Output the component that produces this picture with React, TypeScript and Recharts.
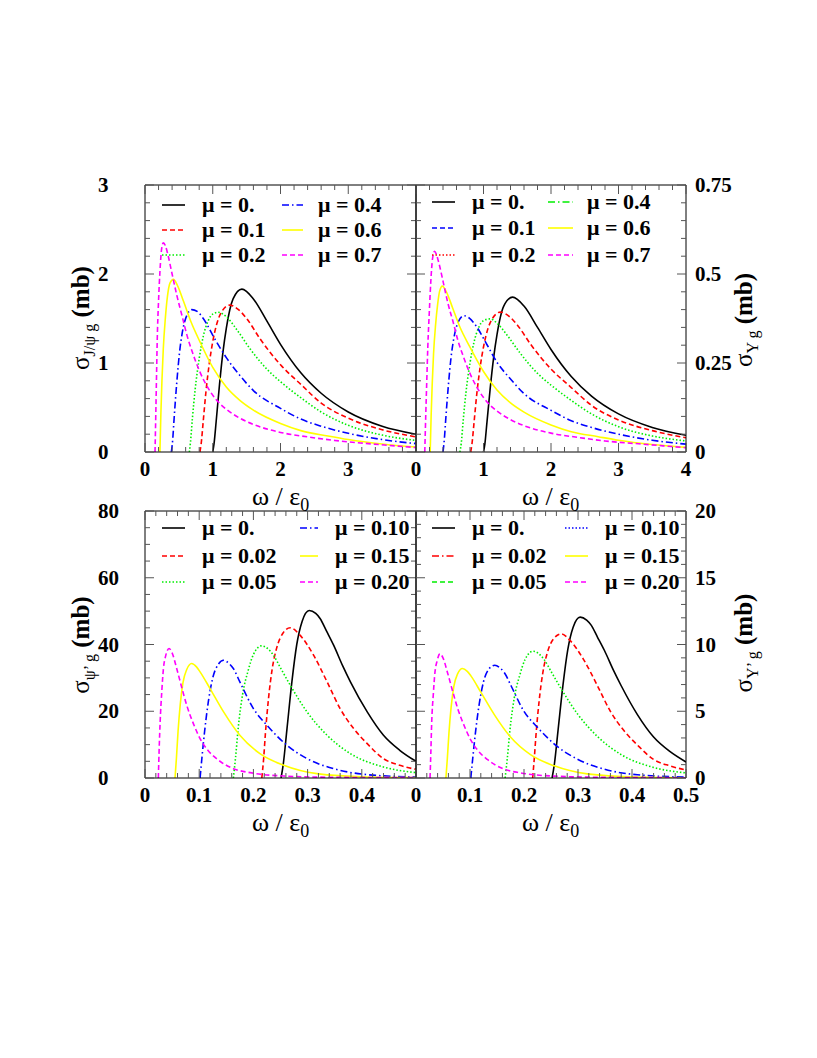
import { LineChart, Line, XAxis, YAxis, Legend } from "recharts"

type Pt = [number, number]

// sigma(J/psi g) in mb vs omega/eps0, top left panel
const jpsiMu00: Pt[] = [[1.0, 0], [1.02, 0.1], [1.05, 0.34], [1.1, 0.76], [1.15, 1.12], [1.2, 1.39], [1.3, 1.72], [1.43, 1.83], [1.6, 1.72], [1.8, 1.47], [2.0, 1.21], [2.3, 0.89], [2.6, 0.66], [3.0, 0.45], [3.5, 0.29], [4.0, 0.2]]
const jpsiMu01: Pt[] = [[0.81, 0], [0.83, 0.1], [0.86, 0.35], [0.9, 0.68], [0.95, 1.0], [1.0, 1.24], [1.06, 1.44], [1.12, 1.56], [1.25, 1.65], [1.38, 1.6], [1.5, 1.5], [1.7, 1.27], [2.0, 0.98], [2.3, 0.76], [2.6, 0.55], [3.0, 0.38], [3.5, 0.25], [4.0, 0.17]]
const jpsiMu02: Pt[] = [[0.655, 0], [0.67, 0.1], [0.7, 0.38], [0.74, 0.7], [0.8, 1.05], [0.86, 1.3], [0.93, 1.47], [1.0, 1.55], [1.08, 1.57], [1.2, 1.52], [1.35, 1.38], [1.55, 1.16], [1.8, 0.93], [2.0, 0.79], [2.3, 0.61], [2.6, 0.45], [3.0, 0.3], [3.5, 0.19], [4.0, 0.13]]
const jpsiMu04: Pt[] = [[0.39, 0], [0.41, 0.15], [0.43, 0.38], [0.47, 0.79], [0.51, 1.12], [0.55, 1.34], [0.62, 1.54], [0.69, 1.6], [0.77, 1.58], [0.86, 1.5], [1.03, 1.27], [1.2, 1.06], [1.4, 0.86], [1.6, 0.69], [2.0, 0.49], [2.3, 0.37], [2.6, 0.29], [3.0, 0.21], [3.5, 0.14], [4.0, 0.094]]
const jpsiMu06: Pt[] = [[0.22, 0], [0.235, 0.45], [0.25, 0.8], [0.27, 1.16], [0.3, 1.5], [0.33, 1.74], [0.37, 1.9], [0.42, 1.94], [0.48, 1.87], [0.57, 1.69], [0.68, 1.46], [0.81, 1.24], [1.0, 0.95], [1.2, 0.73], [1.4, 0.58], [1.6, 0.47], [2.0, 0.32], [2.3, 0.24], [2.7, 0.18], [3.0, 0.14], [3.5, 0.09], [4.0, 0.056]]
const jpsiMu07: Pt[] = [[0.148, 0], [0.16, 0.45], [0.17, 0.85], [0.18, 1.24], [0.2, 1.7], [0.22, 2.02], [0.245, 2.28], [0.27, 2.35], [0.3, 2.32], [0.34, 2.21], [0.4, 2.0], [0.47, 1.76], [0.55, 1.52], [0.62, 1.31], [0.7, 1.12], [0.81, 0.9], [0.93, 0.72], [1.06, 0.58], [1.2, 0.48], [1.4, 0.38], [1.6, 0.31], [2.0, 0.22], [2.4, 0.17], [2.8, 0.13], [3.3, 0.094], [4.0, 0.05]]

// sigma(Upsilon g), top right panel
const upsMu00: Pt[] = [[1.0, 0], [1.02, 0.022], [1.05, 0.081], [1.1, 0.18], [1.15, 0.265], [1.2, 0.33], [1.3, 0.41], [1.43, 0.435], [1.6, 0.41], [1.8, 0.35], [2.0, 0.288], [2.3, 0.212], [2.6, 0.157], [3.0, 0.107], [3.5, 0.069], [4.0, 0.047]]
const upsMu01: Pt[] = [[0.81, 0], [0.83, 0.024], [0.86, 0.083], [0.9, 0.162], [0.95, 0.238], [1.0, 0.295], [1.06, 0.343], [1.12, 0.371], [1.25, 0.393], [1.38, 0.381], [1.5, 0.357], [1.7, 0.302], [2.0, 0.233], [2.3, 0.181], [2.6, 0.131], [3.0, 0.09], [3.5, 0.06], [4.0, 0.04]]
const upsMu02: Pt[] = [[0.65, 0], [0.67, 0.024], [0.7, 0.09], [0.74, 0.167], [0.8, 0.25], [0.86, 0.309], [0.93, 0.35], [1.0, 0.369], [1.1, 0.374], [1.2, 0.362], [1.35, 0.328], [1.55, 0.276], [1.8, 0.221], [2.0, 0.188], [2.3, 0.145], [2.6, 0.107], [3.0, 0.071], [3.5, 0.045], [4.0, 0.031]]
const upsMu04: Pt[] = [[0.4, 0], [0.42, 0.036], [0.44, 0.09], [0.48, 0.188], [0.52, 0.267], [0.56, 0.319], [0.63, 0.367], [0.71, 0.383], [0.79, 0.376], [0.88, 0.357], [1.05, 0.302], [1.2, 0.252], [1.4, 0.205], [1.6, 0.164], [2.0, 0.117], [2.3, 0.088], [2.6, 0.069], [3.0, 0.05], [3.5, 0.033], [4.0, 0.022]]
const upsMu06: Pt[] = [[0.21, 0], [0.225, 0.107], [0.24, 0.19], [0.26, 0.276], [0.29, 0.357], [0.32, 0.414], [0.35, 0.452], [0.39, 0.466], [0.45, 0.45], [0.54, 0.406], [0.65, 0.351], [0.79, 0.298], [1.0, 0.226], [1.2, 0.174], [1.4, 0.138], [1.6, 0.112], [2.0, 0.076], [2.3, 0.057], [2.7, 0.043], [3.0, 0.033], [3.5, 0.021], [4.0, 0.013]]
const upsMu07: Pt[] = [[0.13, 0], [0.145, 0.107], [0.16, 0.202], [0.175, 0.295], [0.2, 0.405], [0.22, 0.481], [0.245, 0.543], [0.275, 0.564], [0.3, 0.556], [0.34, 0.53], [0.4, 0.48], [0.47, 0.42], [0.55, 0.365], [0.62, 0.314], [0.7, 0.269], [0.81, 0.216], [0.93, 0.173], [1.06, 0.139], [1.2, 0.115], [1.4, 0.091], [1.6, 0.074], [2.0, 0.053], [2.4, 0.041], [2.8, 0.031], [3.3, 0.023], [4.0, 0.012]]

// sigma(psi' g), bottom left panel
const psi2Mu000: Pt[] = [[0.251, 0], [0.255, 4], [0.262, 14.8], [0.271, 28.8], [0.28, 40], [0.29, 47], [0.303, 50.2], [0.315, 49.3], [0.323, 47.8], [0.335, 44], [0.348, 39.8], [0.365, 33.5], [0.379, 28.8], [0.41, 19.8], [0.44, 12.8], [0.47, 8.3], [0.5, 5.0]]
const psi2Mu002: Pt[] = [[0.2155, 0], [0.219, 6], [0.222, 13], [0.228, 24], [0.235, 33], [0.243, 39], [0.255, 43.5], [0.268, 45], [0.286, 42.8], [0.311, 36.8], [0.336, 28.8], [0.36, 20.8], [0.385, 14.8], [0.41, 10.3], [0.44, 5.8], [0.47, 3.8], [0.5, 2.6]]
const psi2Mu005: Pt[] = [[0.163, 0], [0.167, 6], [0.172, 15], [0.18, 25], [0.19, 32], [0.2, 37], [0.215, 39.6], [0.237, 36.8], [0.25, 33], [0.268, 27.8], [0.299, 19.8], [0.336, 12.8], [0.379, 7.3], [0.44, 3.3], [0.5, 1.6]]
const psi2Mu010: Pt[] = [[0.1016, 0], [0.105, 6], [0.11, 14], [0.117, 23], [0.125, 30], [0.135, 34], [0.145, 35.3], [0.155, 34.3], [0.163, 32.8], [0.175, 28.8], [0.2, 20.8], [0.225, 15.8], [0.262, 9.8], [0.299, 5.8], [0.348, 2.8], [0.41, 1.0], [0.5, 0.3]]
const psi2Mu015: Pt[] = [[0.0554, 0], [0.058, 6], [0.061, 14], [0.065, 22], [0.07, 28.5], [0.077, 32.5], [0.086, 34.3], [0.095, 33.3], [0.1016, 31.8], [0.12, 26.8], [0.145, 19.8], [0.175, 12.8], [0.212, 7.3], [0.256, 3.8], [0.317, 1.3], [0.41, 0.3], [0.5, 0.1]]
const psi2Mu020: Pt[] = [[0.0246, 0], [0.026, 8], [0.028, 17], [0.031, 26], [0.034, 32.8], [0.038, 36.5], [0.0443, 38.8], [0.05, 37.5], [0.0585, 32.8], [0.068, 27], [0.077, 21.8], [0.09, 16], [0.1016, 11.8], [0.115, 8.5], [0.132, 5.8], [0.163, 2.8], [0.194, 1.6], [0.256, 0.6], [0.35, 0.2], [0.5, 0.1]]

// sigma(Upsilon' g), bottom right panel
const ups2Mu000: Pt[] = [[0.252, 0], [0.256, 0.96], [0.263, 3.55], [0.272, 6.9], [0.281, 9.6], [0.291, 11.3], [0.304, 12.05], [0.316, 11.83], [0.324, 11.47], [0.336, 10.56], [0.349, 9.55], [0.366, 8.04], [0.38, 6.91], [0.41, 4.75], [0.44, 3.07], [0.47, 1.99], [0.5, 1.2]]
const ups2Mu002: Pt[] = [[0.216, 0], [0.219, 1.44], [0.222, 3.12], [0.228, 5.76], [0.235, 7.92], [0.243, 9.36], [0.255, 10.44], [0.269, 10.8], [0.286, 10.27], [0.311, 8.83], [0.336, 6.91], [0.36, 4.99], [0.385, 3.55], [0.41, 2.47], [0.44, 1.39], [0.47, 0.91], [0.5, 0.6]]
const ups2Mu005: Pt[] = [[0.165, 0], [0.169, 1.44], [0.174, 3.6], [0.182, 6.0], [0.192, 7.68], [0.202, 8.88], [0.217, 9.5], [0.238, 8.83], [0.251, 7.92], [0.269, 6.67], [0.3, 4.75], [0.337, 3.07], [0.38, 1.75], [0.44, 0.79], [0.5, 0.38]]
const ups2Mu010: Pt[] = [[0.1015, 0], [0.105, 1.44], [0.11, 3.36], [0.117, 5.52], [0.125, 7.2], [0.135, 8.16], [0.146, 8.45], [0.156, 8.23], [0.164, 7.87], [0.176, 6.91], [0.2, 4.99], [0.225, 3.79], [0.262, 2.35], [0.3, 1.39], [0.348, 0.67], [0.41, 0.24], [0.5, 0.07]]
const ups2Mu015: Pt[] = [[0.0554, 0], [0.058, 1.44], [0.061, 3.36], [0.065, 5.28], [0.07, 6.84], [0.077, 7.8], [0.086, 8.2], [0.095, 7.99], [0.102, 7.63], [0.12, 6.43], [0.145, 4.75], [0.175, 3.07], [0.212, 1.75], [0.256, 0.91], [0.317, 0.31], [0.41, 0.07], [0.5, 0.02]]
const ups2Mu020: Pt[] = [[0.026, 0], [0.0275, 1.92], [0.029, 4.08], [0.032, 6.24], [0.035, 7.87], [0.039, 8.76], [0.0443, 9.31], [0.05, 9.0], [0.0585, 7.87], [0.068, 6.48], [0.077, 5.23], [0.09, 3.84], [0.1016, 2.83], [0.115, 2.04], [0.132, 1.39], [0.163, 0.67], [0.194, 0.38], [0.256, 0.14], [0.35, 0.05], [0.5, 0.02]]

// tick labels
const xLabelsTopLeft = ["0", "1", "2", "3", ""]
const xLabelsTopRight = ["0", "1", "2", "3", "4"]
const xLabelsBotLeft = ["0", "0.1", "0.2", "0.3", "0.4", ""]
const xLabelsBotRight = ["0", "0.1", "0.2", "0.3", "0.4", "0.5"]
const yLabelsJpsi = ["0", "1", "2", "3"]
const yLabelsUps = ["0", "0.25", "0.5", "0.75"]
const yLabelsPsi2 = ["0", "20", "40", "60", "80"]
const yLabelsUps2 = ["0", "5", "10", "15", "20"]

const legendTop = ["\u03bc = 0.", "\u03bc = 0.1", "\u03bc = 0.2", "\u03bc = 0.4", "\u03bc = 0.6", "\u03bc = 0.7"]
const legendBot = ["\u03bc = 0.", "\u03bc = 0.02", "\u03bc = 0.05", "\u03bc = 0.10", "\u03bc = 0.15", "\u03bc = 0.20"]

const FONT = "'Liberation Serif', 'Times New Roman', serif"

const SOLID = ""
const DASH = "5 3"
const DOT = "1.5 2"
const DASHDOT = "7 3 1.5 3"

const K = "#000000"
const R = "#ff0000"
const G = "#00ee00"
const B = "#0000ff"
const Y = "#ffff00"
const M = "#ff00ff"

type Sty = { color: string; dash: string }
const curveStyles: Sty[] = [
  { color: K, dash: SOLID },
  { color: R, dash: DASH },
  { color: G, dash: DOT },
  { color: B, dash: DASHDOT },
  { color: Y, dash: SOLID },
  { color: M, dash: DASH },
]
// the right-hand legends do not use the same styles as the drawn curves
const legendStylesTR: Sty[] = [
  { color: K, dash: SOLID },
  { color: B, dash: DASH },
  { color: R, dash: DOT },
  { color: G, dash: DASHDOT },
  { color: Y, dash: SOLID },
  { color: M, dash: DASH },
]
const legendStylesBR: Sty[] = [
  { color: K, dash: SOLID },
  { color: R, dash: DASHDOT },
  { color: G, dash: DASH },
  { color: B, dash: DOT },
  { color: Y, dash: SOLID },
  { color: M, dash: DASH },
]

const range = (lo: number, hi: number, step: number) => {
  const out: number[] = []
  const n = Math.round((hi - lo) / step)
  for (let i = 0; i <= n; i++) out.push(+(lo + i * step).toFixed(6))
  return out
}
const near = (a: number, b: number) => Math.abs(a - b) < 1e-6

// offsets from the chart box to the plot frame; axes take 1px each
const OFF = { top: 15, right: 75, bottom: 40, left: 75 }
const MARGIN = { top: OFF.top - 1, right: OFF.right - 1, bottom: OFF.bottom - 1, left: OFF.left - 1 }

type Frame = { x: number; y: number; w: number; h: number }
type LegendLayout = { rows: number[]; lines: [number, number][]; texts: number[] }

interface PanelProps {
  frame: Frame
  xMax: number
  xMajor: number[]
  xMinor: number[]
  xLabels: string[]
  yMax: number
  yMajor: number[]
  yMinor: number[]
  yLabels: string[]
  ySide: "left" | "right"
  curves: Pt[][]
  legendLabels: string[]
  legendStyles: Sty[]
  legendLayout: LegendLayout
}

function xTick(majors: number[], labels: string[] | null, dir: number) {
  return (p: any) => {
    const v = p.payload.value
    const idx = majors.findIndex((m) => near(m, v))
    const len = idx >= 0 ? 9 : 5
    const lab = labels && idx >= 0 ? labels[idx] : ""
    return (
      <g>
        <line x1={p.x} x2={p.x} y1={p.y} y2={p.y - dir * len} stroke="#555" strokeWidth={1} />
        {lab ? (
          <text x={p.x} y={p.y + 24} textAnchor="middle" fontFamily={FONT} fontWeight="bold" fontSize={21} fill="#000">
            {lab}
          </text>
        ) : null}
      </g>
    )
  }
}

function yTick(majors: number[], labels: string[] | null, side: "left" | "right") {
  return (p: any) => {
    const v = p.payload.value
    const idx = majors.findIndex((m) => near(m, v))
    const len = idx >= 0 ? 9 : 5
    const dir = side === "left" ? 1 : -1
    const lab = labels && idx >= 0 ? labels[idx] : ""
    const tx = side === "left" ? p.x - 47 : p.x + 9
    return (
      <g>
        <line x1={p.x} x2={p.x + dir * len} y1={p.y} y2={p.y} stroke="#555" strokeWidth={1} />
        {lab ? (
          <text x={tx} y={p.y + 7} textAnchor="start" fontFamily={FONT} fontWeight="bold" fontSize={21} fill="#000">
            {lab}
          </text>
        ) : null}
      </g>
    )
  }
}

function Panel(props: PanelProps) {
  const { frame, xMax, xMajor, xMinor, xLabels, yMax, yMajor, yMinor, yLabels, ySide, curves } = props
  const width = frame.w + OFF.left + OFF.right
  const height = frame.h + OFF.top + OFF.bottom
  const frameLine = { stroke: "#000", strokeWidth: 1 }
  const { rows, lines, texts } = props.legendLayout

  return (
    <div style={{ position: "absolute", left: frame.x - OFF.left, top: frame.y - OFF.top }}>
      <LineChart width={width} height={height} margin={MARGIN}>
        <XAxis xAxisId="b" orientation="bottom" dataKey="x" type="number" domain={[0, xMax]} allowDataOverflow
          ticks={xMinor} interval={0} height={1} tickSize={0} tickMargin={0} tickLine={false} axisLine={frameLine}
          tick={xTick(xMajor, xLabels, 1)} />
        <XAxis xAxisId="t" orientation="top" dataKey="x" type="number" domain={[0, xMax]} allowDataOverflow
          ticks={xMinor} interval={0} height={1} tickSize={0} tickMargin={0} tickLine={false} axisLine={frameLine}
          tick={xTick(xMajor, null, -1)} />
        <YAxis yAxisId="l" orientation="left" type="number" domain={[0, yMax]} allowDataOverflow
          ticks={yMinor} interval={0} width={1} tickSize={0} tickMargin={0} tickLine={false} axisLine={frameLine}
          tick={yTick(yMajor, ySide === "left" ? yLabels : null, "left")} />
        <YAxis yAxisId="r" orientation="right" type="number" domain={[0, yMax]} allowDataOverflow
          ticks={yMinor} interval={0} width={1} tickSize={0} tickMargin={0} tickLine={false} axisLine={frameLine}
          tick={yTick(yMajor, ySide === "right" ? yLabels : null, "right")} />
        <Legend
          layout="horizontal"
          verticalAlign="middle"
          align="center"
          wrapperStyle={{ position: "absolute", left: OFF.left, top: OFF.top, width: frame.w, height: 95, margin: 0, padding: 0 }}
          content={() => (
            <svg width={frame.w} height={95} style={{ display: "block" }}>
              {props.legendLabels.map((lab, i) => {
                const c = Math.floor(i / 3)
                const r = i % 3
                const st = props.legendStyles[i]
                return (
                  <g key={lab}>
                    <line x1={lines[c][0]} x2={lines[c][1]} y1={rows[r]} y2={rows[r]} stroke={st.color}
                      strokeWidth={1.6} strokeDasharray={st.dash || undefined} />
                    <text x={texts[c]} y={rows[r] + 7} fontFamily={FONT} fontWeight="bold" fontSize={22} fill="#000">
                      {lab}
                    </text>
                  </g>
                )
              })}
            </svg>
          )}
        />
        {curves.map((pts, i) => (
          <Line
            key={i}
            xAxisId="b"
            yAxisId="l"
            data={pts.map(([x, y]) => ({ x, y }))}
            dataKey="y"
            type="monotone"
            stroke={curveStyles[i].color}
            strokeWidth={1.6}
            strokeDasharray={curveStyles[i].dash || undefined}
            dot={false}
            activeDot={false}
            isAnimationActive={false}
          />
        ))}
      </LineChart>
    </div>
  )
}

function XTitle({ x, y }: { x: number; y: number }) {
  return (
    <text x={x} y={y} fontFamily={FONT} fontSize={26} fill="#000">
      {"\u03c9 / \u03b5"}
      <tspan fontSize={18} dy={6}>0</tspan>
    </text>
  )
}

function YTitle({ x, y, sub }: { x: number; y: number; sub: string }) {
  return (
    <text transform={`translate(${x},${y}) rotate(-90)`} textAnchor="middle" fontFamily={FONT} fontSize={25} fill="#000">
      {"\u03c3"}
      <tspan fontSize={16} dy={6}>{sub}</tspan>
      <tspan dy={-6} fontWeight="bold">{" (mb)"}</tspan>
    </text>
  )
}

const TOP_LEGEND_L: LegendLayout = { rows: [20, 45, 70], lines: [[17, 40], [137, 158]], texts: [57, 173] }
const TOP_LEGEND_R: LegendLayout = { rows: [17, 43, 70], lines: [[16, 39], [132, 157]], texts: [56, 171] }
const BOT_LEGEND_L: LegendLayout = { rows: [17, 45, 71], lines: [[17, 40], [155, 173]], texts: [57, 190] }
const BOT_LEGEND_R: LegendLayout = { rows: [17, 45, 71], lines: [[16, 39], [149, 172]], texts: [56, 189] }

export default function App() {
  const topX = { xMax: 4, xMajor: range(0, 4, 1), xMinor: range(0, 4, 0.2) }
  const botX = { xMax: 0.5, xMajor: range(0, 0.5, 0.1), xMinor: range(0, 0.5, 0.02) }
  return (
    <div style={{ position: "absolute", left: 0, top: 0, width: 817, height: 1058, background: "#fff" }}>
      <Panel frame={{ x: 145, y: 185, w: 271, h: 267 }} {...topX} xLabels={xLabelsTopLeft}
        yMax={3} yMajor={range(0, 3, 1)} yMinor={range(0, 3, 0.2)} yLabels={yLabelsJpsi} ySide="left"
        curves={[jpsiMu00, jpsiMu01, jpsiMu02, jpsiMu04, jpsiMu06, jpsiMu07]}
        legendLabels={legendTop} legendStyles={curveStyles} legendLayout={TOP_LEGEND_L} />
      <Panel frame={{ x: 416, y: 185, w: 270, h: 267 }} {...topX} xLabels={xLabelsTopRight}
        yMax={0.75} yMajor={range(0, 0.75, 0.25)} yMinor={range(0, 0.75, 0.05)} yLabels={yLabelsUps} ySide="right"
        curves={[upsMu00, upsMu01, upsMu02, upsMu04, upsMu06, upsMu07]}
        legendLabels={legendTop} legendStyles={legendStylesTR} legendLayout={TOP_LEGEND_R} />
      <Panel frame={{ x: 145, y: 511, w: 271, h: 267 }} {...botX} xLabels={xLabelsBotLeft}
        yMax={80} yMajor={range(0, 80, 20)} yMinor={range(0, 80, 5)} yLabels={yLabelsPsi2} ySide="left"
        curves={[psi2Mu000, psi2Mu002, psi2Mu005, psi2Mu010, psi2Mu015, psi2Mu020]}
        legendLabels={legendBot} legendStyles={curveStyles} legendLayout={BOT_LEGEND_L} />
      <Panel frame={{ x: 416, y: 511, w: 270, h: 267 }} {...botX} xLabels={xLabelsBotRight}
        yMax={20} yMajor={range(0, 20, 5)} yMinor={range(0, 20, 1)} yLabels={yLabelsUps2} ySide="right"
        curves={[ups2Mu000, ups2Mu002, ups2Mu005, ups2Mu010, ups2Mu015, ups2Mu020]}
        legendLabels={legendBot} legendStyles={legendStylesBR} legendLayout={BOT_LEGEND_R} />
      <svg width={817} height={1058} style={{ position: "absolute", left: 0, top: 0, pointerEvents: "none" }}>
        <XTitle x={252} y={505} />
        <XTitle x={522} y={505} />
        <XTitle x={252} y={831} />
        <XTitle x={522} y={831} />
        <YTitle x={89} y={318} sub={"J/\u03c8 g"} />
        <YTitle x={89} y={645} sub={"\u03c8\u2019 g"} />
        <YTitle x={752} y={320} sub={"\u03a5 g"} />
        <YTitle x={752} y={643} sub={"\u03a5\u2019 g"} />
      </svg>
    </div>
  )
}
